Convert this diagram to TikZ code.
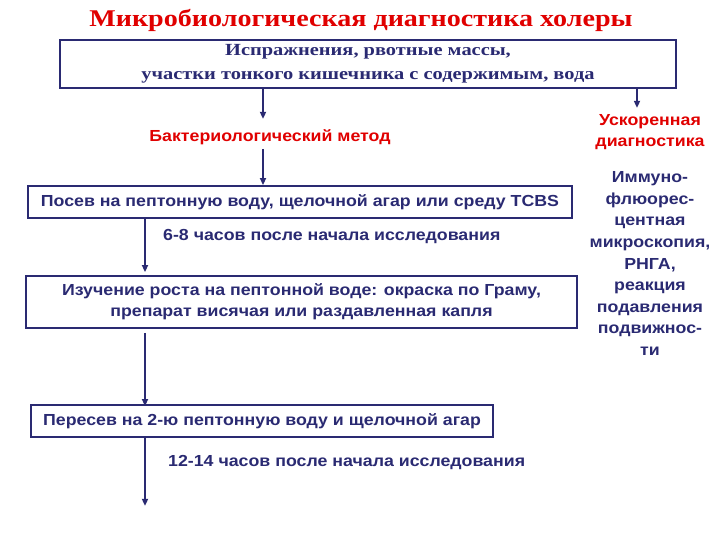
\documentclass[tikz,border=0pt]{standalone}
\usepackage{fontspec}
\setmainfont[FakeStretch=1.11]{Liberation Sans}
\newfontfamily\titlefont[FakeStretch=1.17]{Liberation Serif}
\newfontfamily\boxserif[FakeStretch=1.2]{Liberation Serif}
\usetikzlibrary{arrows.meta}
\definecolor{navy}{HTML}{2A2A72}
\definecolor{ttred}{HTML}{E00000}
\tikzset{
  box/.style={draw=navy, line width=1.8pt, inner sep=0pt, text=navy, align=center, font=\bfseries\fontsize{16}{21}\selectfont},
  arr/.style={draw=navy, line width=1.6pt, -{Triangle[width=6pt,length=7pt]}},
  sans/.style={font=\bfseries\fontsize{16}{21.6}\selectfont, align=center, inner sep=0pt},
}
\begin{document}
\begin{tikzpicture}[x=1pt,y=-1pt]
\useasboundingbox (0,0) rectangle (720,540);
\coordinate (c1) at (263,0);
\coordinate (c2) at (145,0);
\coordinate (c3) at (637,0);
\node[text=ttred, font=\titlefont\bfseries\fontsize{24}{30}\selectfont] (title) at (361,20) {Микробиологическая диагностика холеры};
\node[box, minimum width=616pt, minimum height=48pt, font=\boxserif\bfseries\fontsize{17}{24}\selectfont] (src) at (368,64) {Испражнения, рвотные массы,\\участки тонкого кишечника с содержимым, вода};
\node[sans, text=ttred] (bact) at (270,137) {Бактериологический метод};
\node[sans, text=ttred] (usk) at (650,132) {Ускоренная\\диагностика};
\node[box, minimum width=544pt, minimum height=32pt] (posev) at (300,202) {Посев на пептонную воду, щелочной агар или среду TCBS};
\node[sans, text=navy, anchor=west] (t1) at (163,237) {6-8 часов после начала исследования};
\node[box, minimum width=551pt, minimum height=52pt] (izuch) at (301.5,302) {Изучение роста на пептонной воде: окраска по Граму,\\препарат висячая или раздавленная капля};
\node[box, minimum width=462pt, minimum height=32pt] (peres) at (262,421) {Пересев на 2-ю пептонную воду и щелочной агар};
\node[sans, text=navy, anchor=west] (t2) at (168,463) {12-14 часов после начала исследования};
\node[sans, text=navy] (imm) at (650,263.5) {Иммуно-\\флюорес-\\центная\\микроскопия,\\РНГА,\\реакция\\подавления\\подвижнос-\\ти};
\draw[arr] (src.south -| c1) -- ++(0,30);
\draw[arr] (bact.south -| c1) ++(0,4) -- (posev.north -| c1);
\draw[arr] (posev.south -| c2) -- ([yshift=3pt]izuch.north -| c2);
\draw[arr] (izuch.south -| c2) ++(0,4) -- ([yshift=-2pt]peres.north -| c2);
\draw[arr] (peres.south -| c2) -- ++(0,68);
\draw[arr] (src.south -| c3) -- ++(0,19);
\end{tikzpicture}
\end{document}
